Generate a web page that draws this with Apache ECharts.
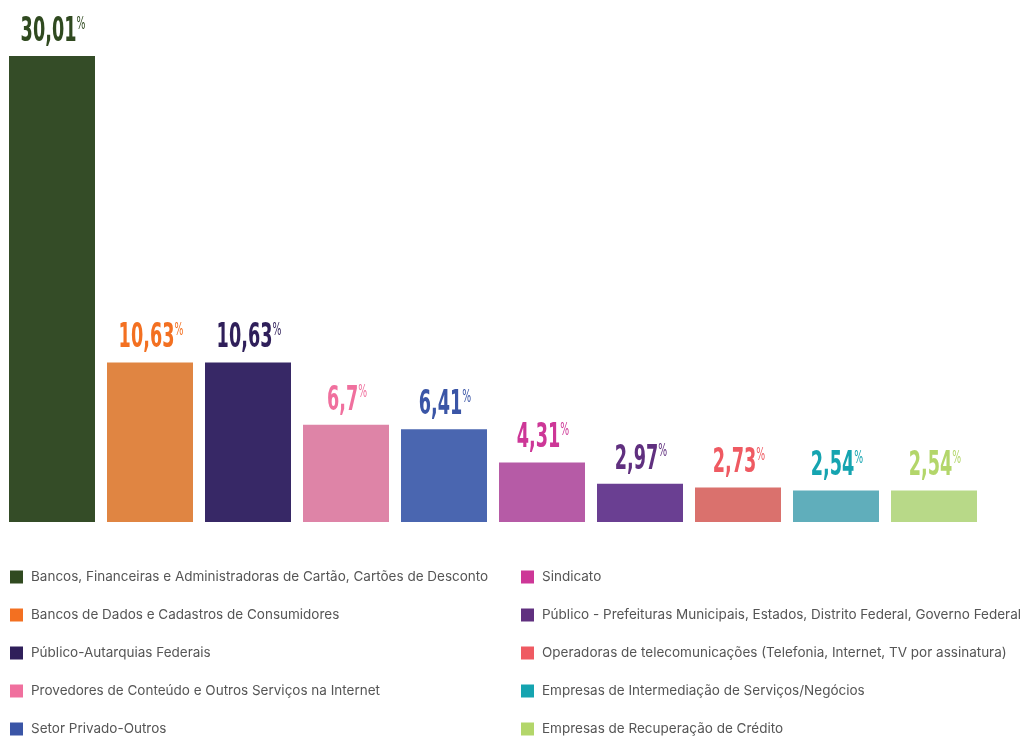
<!DOCTYPE html>
<html>
<head>
<meta charset="utf-8">
<script src="https://cdn.jsdelivr.net/npm/echarts@6/dist/echarts.min.js"></script>
<style>
  html, body { margin: 0; padding: 0; background: #fff; }
  #chart { width: 1030px; height: 736px; }
</style>
</head>
<body>
<div id="chart"></div>
<script>
const categories = [
  'Bancos, Financeiras e Administradoras de Cartão, Cartões de Desconto',
  'Bancos de Dados e Cadastros de Consumidores',
  'Público-Autarquias Federais',
  'Provedores de Conteúdo e Outros Serviços na Internet',
  'Setor Privado-Outros',
  'Sindicato',
  'Público - Prefeituras Municipais, Estados, Distrito Federal, Governo Federal',
  'Operadoras de telecomunicações (Telefonia, Internet, TV por assinatura)',
  'Empresas de Intermediação de Serviços/Negócios',
  'Empresas de Recuperação de Crédito'
];
const values = [30.01, 10.63, 10.63, 6.7, 6.41, 4.31, 2.97, 2.73, 2.54, 2.54];
const barColors = ['#344c27', '#e08542', '#372866', '#de84a7', '#4a66b0', '#b65ba6', '#6a3f92', '#da716d', '#60aebb', '#b8d988'];
const mainColors = ['#304a20', '#f37021', '#2f1f5a', '#f0709e', '#3a55a6', '#cd3797', '#60307f', '#ef5a62', '#15a4b0', '#b3d66a'];

const chart = echarts.init(document.getElementById('chart'));

// one series per category so each gets a legend entry; stacked so they share the slot
const barSeries = categories.map((name, i) => ({
  name: name,
  type: 'bar',
  stack: 'all',
  barWidth: 86,
  itemStyle: { color: barColors[i] },
  data: values.map((v, j) => (j === i ? v : '-')),
  emphasis: { disabled: true }
}));

// condensed value labels, squeezed horizontally
const labelFont = '"DejaVu Sans", sans-serif';
const labelSeries = {
  type: 'custom',
  silent: true,
  z: 5,
  encode: { x: 0, y: 1 },
  data: values.map((v, i) => [i, v]),
  renderItem: (params, api) => {
    const i = params.dataIndex;
    const pt = api.coord([api.value(0), api.value(1)]);
    const txt = String(api.value(1)).replace('.', ',');
    return {
      type: 'text',
      x: pt[0] + 1,
      y: pt[1] - 7,
      scaleX: 0.52,
      style: {
        text: '{n|' + txt + '}{p|%}',
        align: 'center',
        verticalAlign: 'bottom',
        rich: {
          n: { fontFamily: labelFont, fontWeight: 'bold', fontSize: 34, fill: mainColors[i] },
          p: { fontFamily: labelFont, fontSize: 18, fill: mainColors[i], verticalAlign: 'top', padding: [0, 0, 14, 0] }
        }
      }
    };
  }
};

const legendBase = {
  orient: 'vertical',
  top: 570,
  height: 200,
  padding: 0,
  icon: 'rect',
  itemWidth: 13,
  itemHeight: 13,
  itemGap: 24,
  selectedMode: false,
  textStyle: { fontFamily: 'Inter, "Noto Sans", sans-serif', fontSize: 13.5, color: '#555555', padding: [0, 0, 0, 3] }
};

chart.setOption({
  backgroundColor: '#ffffff',
  animation: false,
  grid: { left: 3, right: 47, top: 56, bottom: 214 },
  xAxis: {
    type: 'category',
    data: categories,
    show: false
  },
  yAxis: {
    type: 'value',
    min: 0.55,
    max: 30.01,
    show: false
  },
  legend: [
    Object.assign({}, legendBase, {
      left: 10,
      data: categories.slice(0, 5).map((n, i) => ({ name: n, itemStyle: { color: mainColors[i] } }))
    }),
    Object.assign({}, legendBase, {
      left: 521,
      data: categories.slice(5).map((n, i) => ({ name: n, itemStyle: { color: mainColors[i + 5] } }))
    })
  ],
  series: barSeries.concat([labelSeries])
});
</script>
</body>
</html>
